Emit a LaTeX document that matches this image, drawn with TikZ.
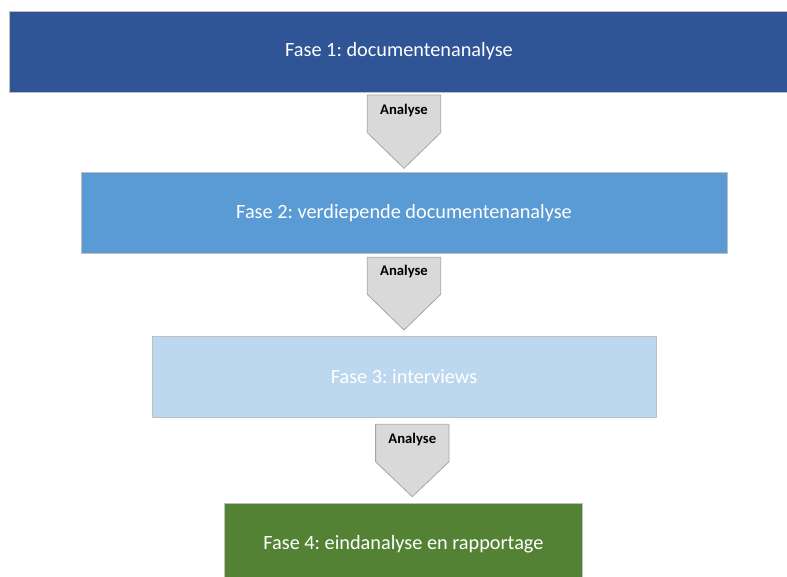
\documentclass[tikz,border=0pt]{standalone}
\usepackage{fontspec}
\setmainfont{Carlito}
\definecolor{c1}{HTML}{2F5597}
\definecolor{c2}{HTML}{5B9BD5}
\definecolor{c3}{HTML}{BDD7EE}
\definecolor{c4}{HTML}{548235}
\definecolor{arrfill}{HTML}{D9D9D9}
\definecolor{arrline}{HTML}{A6A6A6}
\begin{document}
\frenchspacing
\begin{tikzpicture}[x=0.75pt,y=-0.75pt,
  phase/.style={draw=black!25, line width=0.6pt, inner sep=0pt, text=white,
    font=\fontsize{15.2}{18}\selectfont, minimum height=60.75pt},
  blockarrow/.style={fill=arrfill, draw=arrline, line width=0.6pt, line join=miter},
  arrlabel/.style={font=\bfseries\fontsize{11}{13}\selectfont, text=black, inner sep=0pt}]
\useasboundingbox (0,0) rectangle (787,576);
\clip (0,0) rectangle (787,576);
\fill[white] (0,0) rectangle (787,576);

% phase boxes
\node[phase, fill=c1, minimum width=585pt] (f1) at (399,51.5) {Fase 1: documentenanalyse};
\node[phase, fill=c2, minimum width=484.5pt, minimum height=60.4pt] (f2) at (404,212.7) {Fase 2: verdiepende documentenanalyse};
\node[phase, fill=c3, minimum width=378pt] (f3) at (404,377) {Fase 3: interviews};
\node[phase, fill=c4, minimum width=269pt] (f4) at (403.4,544) {Fase 4: eindanalyse en rapportage};

% block arrows
\newcommand{\blockarr}[6]{% name, cx, top, shoulder, tip, labely
  \draw[blockarrow] (#2-36.7,#3) -- (#2+36.7,#3) -- (#2+36.7,#4) -- (#2,#5) -- (#2-36.7,#4) -- cycle;
  \node[arrlabel] (#1) at (#2,#6) {Analyse};
}
\blockarr{a1}{404}{95}{132.7}{168.3}{110.7}
\blockarr{a2}{404}{257.3}{294.3}{330}{271.7}
\blockarr{a3}{412.3}{424.3}{461.7}{496.7}{439}
\end{tikzpicture}
\end{document}
